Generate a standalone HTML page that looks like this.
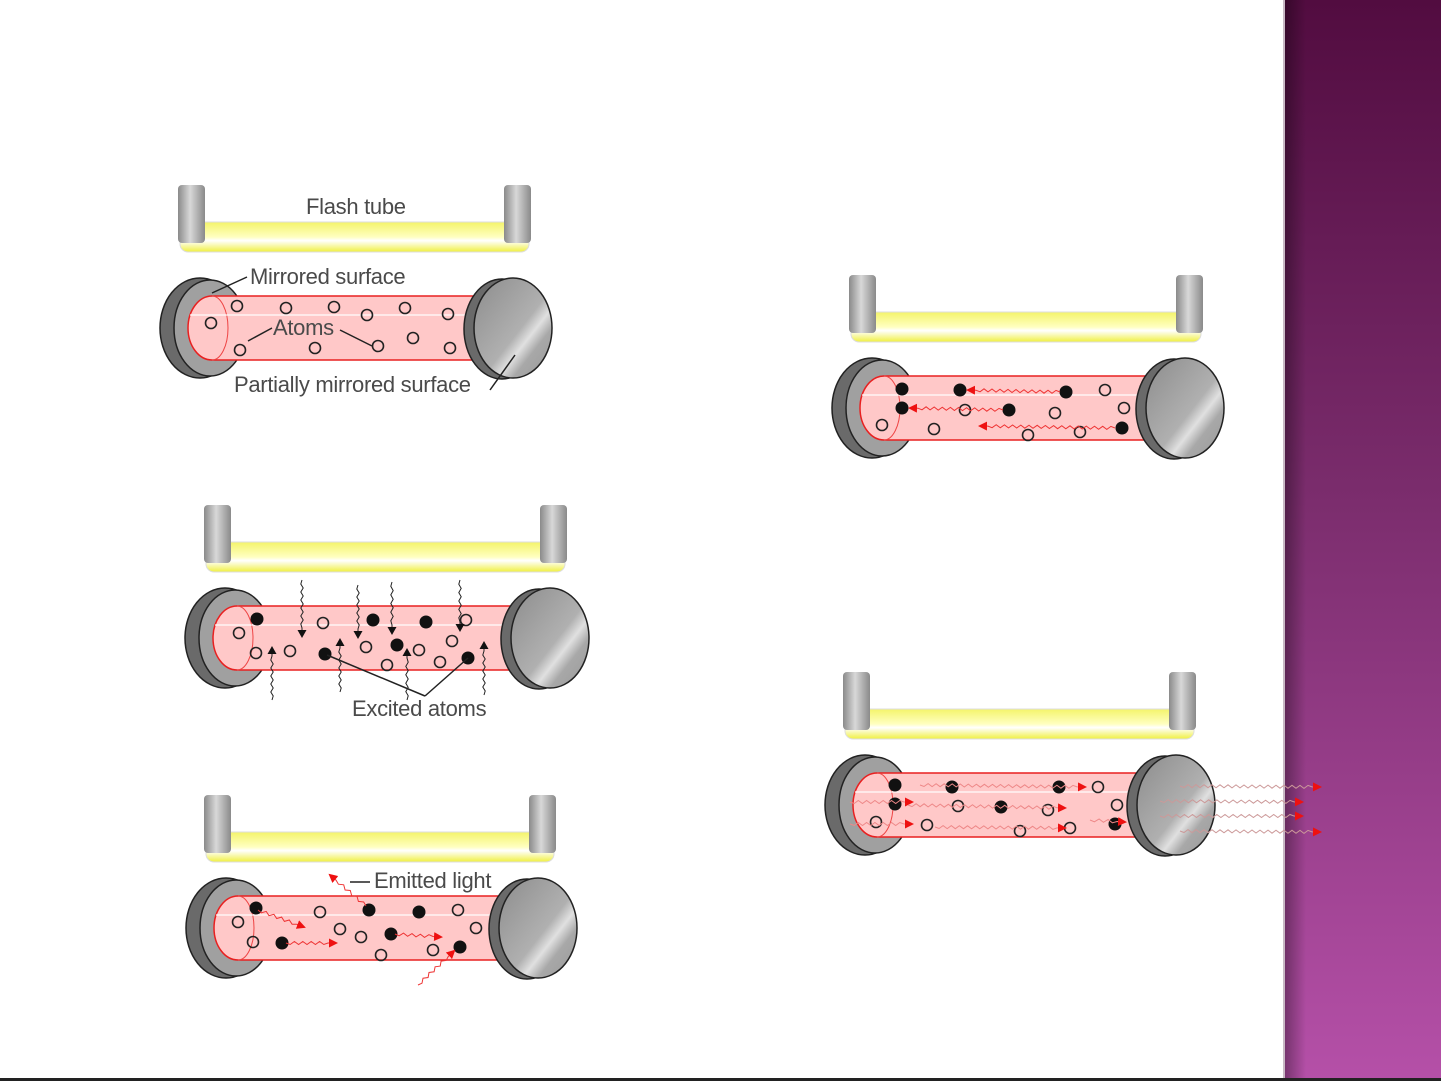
<!DOCTYPE html>
<html><head><meta charset="utf-8"><style>
html,body{margin:0;padding:0;background:#fff;width:1441px;height:1081px;overflow:hidden}
svg{display:block}
text{font-family:"Liberation Sans",sans-serif;font-size:22px;fill:#4a4a4a;letter-spacing:-0.3px}
</style></head><body>
<svg id="s" width="1441" height="1081" viewBox="0 0 1441 1081" xmlns="http://www.w3.org/2000/svg">
<defs>
<linearGradient id="side" x1="0" y1="0" x2="0" y2="1"><stop offset="0" stop-color="#520c40"/><stop offset="0.45" stop-color="#7a2c6c"/><stop offset="1" stop-color="#b550a8"/></linearGradient>
<linearGradient id="sideL" x1="0" y1="0" x2="1" y2="0"><stop offset="0" stop-color="#000" stop-opacity="0.35"/><stop offset="1" stop-color="#000" stop-opacity="0"/></linearGradient>
<linearGradient id="post" x1="0" y1="0" x2="1" y2="0"><stop offset="0" stop-color="#8a8a8a"/><stop offset="0.45" stop-color="#d8d8d8"/><stop offset="1" stop-color="#8a8a8a"/></linearGradient>
<linearGradient id="yel" x1="0" y1="0" x2="0" y2="1"><stop offset="0" stop-color="#f4f46a"/><stop offset="0.5" stop-color="#ffffc0"/><stop offset="0.62" stop-color="#ffffff"/><stop offset="1" stop-color="#f0f040"/></linearGradient>
<linearGradient id="face" x1="0" y1="0" x2="1" y2="1"><stop offset="0" stop-color="#8c8c8c"/><stop offset="0.55" stop-color="#b0b0b0"/><stop offset="0.65" stop-color="#e0e0e0"/><stop offset="0.75" stop-color="#a8a8a8"/><stop offset="1" stop-color="#999"/></linearGradient>
<marker id="ar" markerWidth="9" markerHeight="9" refX="7" refY="4.5" orient="auto" markerUnits="userSpaceOnUse"><path d="M0,0 L9,4.5 L0,9 Z" fill="#ee1111"/></marker>
<marker id="ak" markerWidth="8" markerHeight="9" refX="6" refY="4.5" orient="auto" markerUnits="userSpaceOnUse"><path d="M0,0 L8,4.5 L0,9 Z" fill="#111"/></marker>
</defs>
<rect x="1284" y="0" width="157" height="1081" fill="url(#side)"/>
<rect x="1284" y="0" width="22" height="1081" fill="url(#sideL)"/>
<rect x="1283" y="0" width="2" height="1081" fill="#c8b8c4"/>
<rect x="0" y="1078" width="1441" height="3" fill="#222"/>
<g id="g"></g>
<text x="306" y="214">Flash tube</text>
<text x="250" y="284">Mirrored surface</text>
<text x="273" y="335">Atoms</text>
<text x="234" y="392">Partially mirrored surface</text>
<text x="352" y="716">Excited atoms</text>
<text x="374" y="888">Emitted light</text>
</svg>
<script>
var g=document.getElementById('g'),h='';
function flash(x,y,w){
 h+='<rect x="'+(x+2)+'" y="'+(y+37)+'" width="'+(w-4)+'" height="30" rx="8" fill="url(#yel)" stroke="#ddd" stroke-width="1"/>';
 h+='<rect x="'+x+'" y="'+y+'" width="27" height="58" rx="4" fill="url(#post)"/>';
 h+='<rect x="'+(x+w-27)+'" y="'+y+'" width="27" height="58" rx="4" fill="url(#post)"/>';
}
function rod(x,y,w){
 h+='<ellipse cx="'+(x+40)+'" cy="'+(y+50)+'" rx="40" ry="50" fill="#6a6a6a" stroke="#222" stroke-width="1.5"/>';
 h+='<ellipse cx="'+(x+50)+'" cy="'+(y+50)+'" rx="36" ry="48" fill="#a0a0a0" stroke="#222" stroke-width="1.5"/>';
 var a=x+52,b=x+w-75;
 h+='<path d="M'+a+','+(y+18)+' L'+b+','+(y+18)+' L'+b+','+(y+82)+' L'+a+','+(y+82)+' A24,32 0 0 1 '+a+','+(y+18)+' Z" fill="#ffc8c8" stroke="#e82020" stroke-width="1.5"/>';
 h+='<path d="M'+a+','+(y+18)+' A16,32 0 0 1 '+a+','+(y+82)+'" fill="none" stroke="#ee4444" stroke-width="1"/>';
 h+='<line x1="'+(a-22)+'" y1="'+(y+37)+'" x2="'+b+'" y2="'+(y+37)+'" stroke="#fff" stroke-width="1.5" opacity="0.8"/>';
 h+='<ellipse cx="'+(x+w-50)+'" cy="'+(y+51)+'" rx="38" ry="50" fill="#6a6a6a" stroke="#222" stroke-width="1.5"/>';
 h+='<ellipse cx="'+(x+w-39)+'" cy="'+(y+50)+'" rx="39" ry="50" fill="url(#face)" stroke="#222" stroke-width="1.5"/>';
}
function o(p){p.forEach(function(c){h+='<circle cx="'+c[0]+'" cy="'+c[1]+'" r="5.5" fill="none" stroke="#222" stroke-width="1.6"/>';});}
function f(p){p.forEach(function(c){h+='<circle cx="'+c[0]+'" cy="'+c[1]+'" r="6.5" fill="#111"/>';});}
function wav(x1,y1,x2,y2,col,mk,amp){
 var dx=x2-x1,dy=y2-y1,L=Math.sqrt(dx*dx+dy*dy),ux=dx/L,uy=dy/L,L2=L-8,n=Math.floor(L2/4),nx=-uy,ny=ux,d='M'+x1+','+y1;
 for(var i=1;i<=n;i++){var t=i*L2/n,s=(i%2?1:-1)*(amp||1.5);if(i==n)s=0;d+=' L'+(x1+ux*t+nx*s).toFixed(1)+','+(y1+uy*t+ny*s).toFixed(1);}
 d+=' L'+x2+','+y2;
 h+='<path d="'+d+'" fill="none" stroke="'+col+'" stroke-width="1" marker-end="url(#'+mk+')"/>';
}
function ln(x1,y1,x2,y2){h+='<line x1="'+x1+'" y1="'+y1+'" x2="'+x2+'" y2="'+y2+'" stroke="#222" stroke-width="1.5"/>';}
// D1
flash(178,185,353);rod(160,278,392);
o([[211,323],[237,306],[286,308],[334,307],[367,315],[405,308],[448,314],[240,350],[315,348],[378,346],[413,338],[450,348]]);
ln(212,293,247,277);ln(248,341,272,328);ln(340,330,372,346);ln(490,390,515,355);
// D2
flash(204,505,363);rod(185,588,404);
f([[257,619],[373,620],[426,622],[325,654],[397,645],[468,658]]);
o([[239,633],[256,653],[290,651],[323,623],[366,647],[387,665],[419,650],[440,662],[452,641],[466,620]]);
[[302,580,636],[358,585,637],[392,582,633],[460,580,630]].forEach(function(a){wav(a[0],a[1],a[0],a[2],'#222','ak',1.2);});
[[272,700,648],[340,692,640],[407,700,650],[484,695,643]].forEach(function(a){wav(a[0],a[1],a[0],a[2],'#222','ak',1.2);});
ln(327,655,425,696);ln(468,658,425,696);
// D3
flash(204,795,352);rod(186,878,391);
f([[256,908],[282,943],[369,910],[419,912],[391,934],[460,947]]);
o([[238,922],[253,942],[320,912],[340,929],[361,937],[381,955],[433,950],[458,910],[476,928]]);
wav(258,910,304,927,'#e33','ar');wav(286,943,336,943,'#e33','ar');wav(395,934,441,937,'#e33','ar');
wav(366,906,330,875,'#e33','ar');wav(418,985,454,951,'#e33','ar');
ln(350,882,370,882);
// D4
flash(849,275,354);rod(832,358,392);
f([[902,389],[902,408],[960,390],[1066,392],[1009,410],[1122,428]]);
o([[1105,390],[965,410],[1055,413],[1124,408],[882,425],[934,429],[1028,435],[1080,432]]);
wav(1060,392,968,390,'#e33','ar');wav(1003,410,910,408,'#e33','ar');wav(1115,428,980,426,'#e33','ar');
// D5
flash(843,672,353);rod(825,755,390);
f([[895,785],[952,787],[1059,787],[895,804],[1001,807],[1115,824]]);
o([[1098,787],[958,806],[1048,810],[1117,805],[876,822],[927,825],[1020,831],[1070,828]]);
wav(920,785,1085,787,'#e88','ar');wav(850,802,912,802,'#e88','ar');wav(908,805,1065,808,'#e88','ar');
wav(850,824,912,824,'#e88','ar');wav(935,827,1065,828,'#e88','ar');wav(1090,820,1125,822,'#e88','ar');
wav(1180,786,1320,787,'#c99','ar');wav(1160,801,1302,802,'#c99','ar');wav(1160,816,1302,816,'#c99','ar');wav(1180,831,1320,832,'#c99','ar');
g.innerHTML=h;
</script>
</body></html>
